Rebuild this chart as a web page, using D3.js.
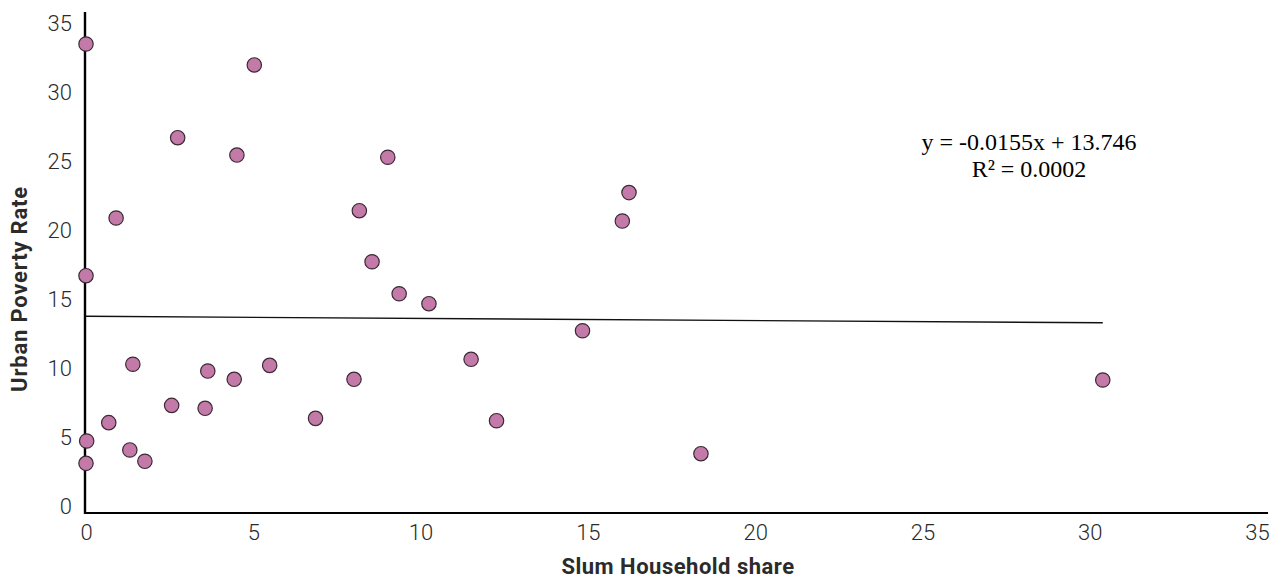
<!DOCTYPE html>
<html><head><meta charset="utf-8">
<script src="https://cdn.jsdelivr.net/npm/d3@7"></script>
<style>
html,body{margin:0;padding:0;background:#fff;}
svg{display:block;}
</style></head>
<body>
<svg id="chart" width="1281" height="578"></svg>
<script>
// Data: slum household share (x) vs urban poverty rate (y)
const slumShare = [0, 5.03, 2.74, 4.51, 9.02, 16.23, 0.90, 16.03, 8.17, 0, 8.55, 9.36, 10.25, 14.84,
  1.40, 5.49, 3.64, 4.43, 8.01, 11.51, 30.39, 2.56, 3.56, 0.68, 6.86, 12.27, 0.02, 1.31, 1.76, 0, 18.38];
const povertyRate = [33.48, 31.96, 26.69, 25.43, 25.27, 22.71, 20.87, 20.65, 21.40, 16.69, 17.70, 15.38, 14.66, 12.70,
  10.27, 10.19, 9.78, 9.18, 9.18, 10.63, 9.13, 7.29, 7.08, 6.04, 6.35, 6.18, 4.71, 4.06, 3.24, 3.09, 3.79];
const xTicks = [0, 5, 10, 15, 20, 25, 30, 35];
const yTicks = [0, 5, 10, 15, 20, 25, 30, 35];
const trendSlope = -0.0155, trendIntercept = 13.746;
const trendRange = [0, 30.39];
const equationLines = ["y = -0.0155x + 13.746", "R\u00B2 = 0.0002"];
const xTitle = "Slum Household share";
const yTitle = "Urban Poverty Rate";

const svg = d3.select("#chart");
const x = d3.scaleLinear().domain([0, 35]).range([86, 1257]);
const y = d3.scaleLinear().domain([0, 35]).range([506, 23]);
const xAxisY = y(-0.5), yAxisX = x(-0.03);
const xEnd = x(35.33), yTop = y(35.8);

// tick labels via axes
const gx = svg.append("g").attr("transform", `translate(0,${xAxisY})`)
  .call(d3.axisBottom(x).tickValues(xTicks).tickSize(0).tickPadding(11).tickFormat(d3.format("d")));
gx.select(".domain").remove();
const gy = svg.append("g").attr("transform", `translate(${yAxisX},0)`)
  .call(d3.axisLeft(y).tickValues(yTicks).tickSize(0).tickPadding(13).tickFormat(d3.format("d")));
gy.select(".domain").remove();
svg.selectAll(".tick text").attr("font-family", "Roboto").attr("font-size", 22)
  .attr("font-weight", 300).attr("fill", "#2b2b2b");

// axis lines
svg.append("line").attr("x1", yAxisX).attr("x2", xEnd).attr("y1", xAxisY).attr("y2", xAxisY)
  .attr("stroke", "#000").attr("stroke-width", 2);
svg.append("line").attr("x1", yAxisX).attr("x2", yAxisX).attr("y1", yTop).attr("y2", xAxisY + 1)
  .attr("stroke", "#000").attr("stroke-width", 2.4);

// trendline
svg.append("line")
  .attr("x1", x(trendRange[0])).attr("y1", y(trendIntercept + trendSlope * trendRange[0]))
  .attr("x2", x(trendRange[1])).attr("y2", y(trendIntercept + trendSlope * trendRange[1]))
  .attr("stroke", "#111").attr("stroke-width", 1.4);

// points
svg.append("g").selectAll("circle").data(slumShare.map((s, i) => [s, povertyRate[i]]))
  .join("circle")
  .attr("cx", d => x(d[0])).attr("cy", d => y(d[1])).attr("r", 7.2)
  .attr("fill", "#c47aa8").attr("stroke", "#3a2a35").attr("stroke-width", 1.2);

// equation
svg.append("g").selectAll("text").data(equationLines).join("text")
  .attr("x", 1029).attr("y", (d, i) => 150 + i * 27)
  .attr("text-anchor", "middle").attr("font-family", "Liberation Serif").attr("font-size", 24)
  .attr("fill", "#000").text(d => d);

// axis titles
svg.append("text").attr("x", 678).attr("y", 574).attr("text-anchor", "middle")
  .attr("font-family", "Roboto").attr("font-weight", 700).attr("font-size", 22)
  .attr("letter-spacing", 0.5).attr("fill", "#2b2b2b")
  .text(xTitle);
svg.append("text").attr("transform", "translate(27,289) rotate(-90)").attr("text-anchor", "middle")
  .attr("font-family", "Roboto").attr("font-weight", 700).attr("font-size", 22)
  .attr("letter-spacing", 0.8).attr("fill", "#2b2b2b")
  .text(yTitle);
</script>
</body></html>
